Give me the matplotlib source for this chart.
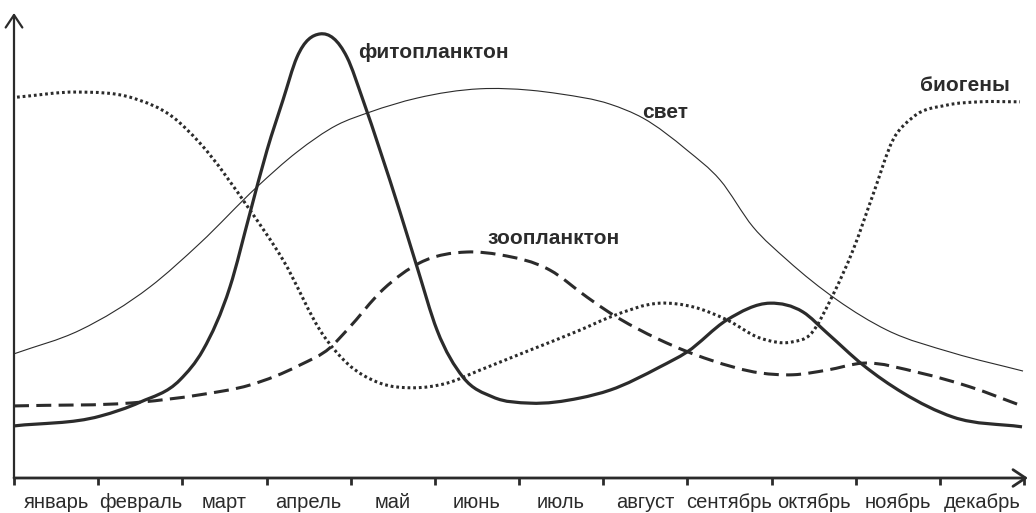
import numpy as np
import matplotlib.pyplot as plt
from matplotlib.path import Path
from matplotlib.patches import PathPatch

plt.rcParams['font.family'] = ['Liberation Sans', 'DejaVu Sans']

months = ["январь", "февраль", "март", "апрель", "май", "июнь",
          "июль", "август", "сентябрь", "октябрь", "ноябрь", "декабрь"]

# seasonal curves: x in months from the start of January, y in relative units (0..100)
phyto_x = [0, 1.022, 1.497, 1.972, 2.245, 2.566, 2.804, 3.006, 3.196, 3.362, 3.636,
           3.956, 4.146, 4.348, 4.586, 4.788, 5.026, 5.334, 5.691, 6.130, 6.724,
           7.081, 7.675, 7.996, 8.471, 8.982, 9.374, 9.659, 10.087, 10.562, 11.156, 11.976]
phyto_y = [11.2, 13.3, 16.3, 21.1, 27.5, 41.1, 57.0, 70.5, 81.3, 90.5, 95.5,
           90.5, 81.3, 70.5, 57.2, 45.4, 31.8, 21.7, 17.4, 16.1, 17.2,
           18.9, 23.9, 27.1, 34.0, 37.6, 35.7, 31.2, 24.3, 18.3, 13.1, 11.0]

light_x = [0, 0.784, 1.616, 2.210, 2.887, 3.362, 3.837, 4.230, 4.788, 5.536, 6.130,
           6.487, 7.081, 7.473, 7.996, 8.388, 8.780, 9.184, 9.778, 10.372, 11.156, 11.988]
light_y = [26.7, 31.8, 41.1, 50.5, 62.6, 70.1, 75.9, 78.7, 81.7, 83.7, 83.4,
           82.6, 80.4, 77.4, 70.5, 64.1, 54.0, 46.9, 38.3, 31.8, 26.9, 23.0]

zoo_x = [0, 1.497, 2.210, 2.804, 3.398, 3.754, 3.956, 4.388, 4.824, 5.382, 5.774,
         6.368, 6.808, 7.081, 7.675, 8.269, 8.863, 9.255, 9.659, 10.087, 10.764,
         11.358, 11.976]
zoo_y = [15.5, 16.3, 17.9, 20.0, 24.3, 28.0, 31.8, 40.6, 46.3, 48.6, 48.0,
         44.7, 38.9, 35.5, 29.7, 25.4, 22.6, 22.2, 23.2, 24.7, 22.6,
         19.6, 15.5]

nutr_x = [0.036, 0.748, 1.414, 1.889, 2.210, 2.804, 3.196, 3.671, 3.956, 4.348,
          4.740, 5.144, 5.536, 6.130, 6.724, 7.081, 7.675, 8.067, 8.471, 8.863,
          9.255, 9.457, 9.730, 9.968, 10.205, 10.443, 10.681, 11.085, 11.477, 11.952]
nutr_y = [81.9, 83.0, 81.7, 77.6, 72.0, 57.6, 46.9, 30.8, 24.7, 20.4,
          19.4, 20.4, 23.2, 27.5, 31.8, 34.6, 37.6, 36.8, 34.0, 30.1,
          29.3, 30.8, 39.4, 49.0, 60.9, 72.7, 77.6, 80.2, 80.9, 80.9]

INK = "#2b2b2b"


def smooth_path(xs, ys):
    """Cubic Hermite curve through the points, as Bezier segments."""
    x = np.asarray(xs, float)
    y = np.asarray(ys, float)
    h = np.diff(x)
    d = np.diff(y) / h
    m = np.empty_like(y)
    m[0], m[-1] = d[0], d[-1]
    m[1:-1] = (h[:-1] * d[1:] + h[1:] * d[:-1]) / (h[:-1] + h[1:])
    verts = [(x[0], y[0])]
    codes = [Path.MOVETO]
    for i in range(len(x) - 1):
        t = h[i] / 3.0
        verts += [(x[i] + t, y[i] + m[i] * t),
                  (x[i + 1] - t, y[i + 1] - m[i + 1] * t),
                  (x[i + 1], y[i + 1])]
        codes += [Path.CURVE4] * 3
    return Path(verts, codes)


def draw_curve(ax, xs, ys, **kw):
    patch = PathPatch(smooth_path(xs, ys), facecolor="none", edgecolor=INK,
                      capstyle="butt", joinstyle="round", **kw)
    ax.add_patch(patch)


fig = plt.figure(figsize=(10.36, 5.13), dpi=100)
ax = fig.add_axes([14 / 1036, 35 / 513, 1014 / 1036, 465 / 513])
ax.set_xlim(0, 1014 / 84.17)
ax.set_ylim(0, 100)

draw_curve(ax, light_x, light_y, lw=0.8)
draw_curve(ax, zoo_x, zoo_y, lw=2.2, linestyle=(0, (4.9, 2.4)))
draw_curve(ax, nutr_x, nutr_y, lw=2.2, linestyle=(0, (0.9, 0.95)))
draw_curve(ax, phyto_x, phyto_y, lw=2.3)

# axes drawn as arrows
for s in ax.spines.values():
    s.set_visible(False)
arrow = dict(arrowstyle="->,head_length=0.45,head_width=0.3", lw=2.0,
             color=INK, shrinkA=0, shrinkB=0, mutation_scale=20)
ax.annotate("", xy=(1, 0), xytext=(0, 0), xycoords="axes fraction",
            arrowprops=arrow, annotation_clip=False)
ax.annotate("", xy=(0, 1), xytext=(0, 0), xycoords="axes fraction",
            arrowprops=dict(arrow, lw=1.6), annotation_clip=False)

ax.set_yticks([])
ax.set_xticks(np.arange(13))
ax.set_xticklabels([])
ax.tick_params(axis="x", which="major", direction="out", length=5, width=2,
               color=INK)
ax.set_xticks(np.arange(12) + 0.5, minor=True)
ax.set_xticklabels(months, minor=True, fontsize=14.5, color=INK)
ax.tick_params(axis="x", which="minor", length=0, pad=11)

lab = dict(fontsize=15, fontweight="bold", color=INK, va="center", ha="left")
ax.text(4.087, 91.6, "фитопланктон", **lab)
ax.text(7.46, 78.5, "свет", **lab)
ax.text(5.63, 51.6, "зоопланктон", **lab)
ax.text(10.76, 84.5, "биогены", **lab)

fig.savefig("out.png", dpi=100)
